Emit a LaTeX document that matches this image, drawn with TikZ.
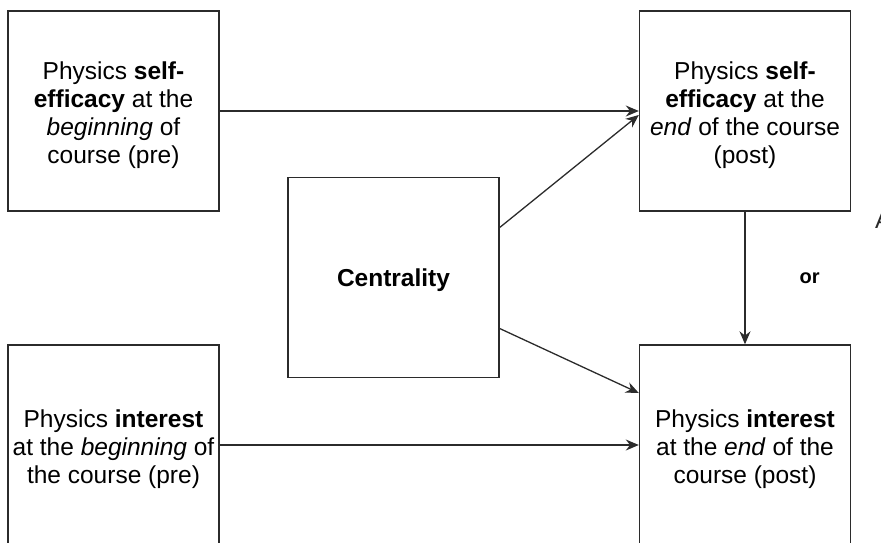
\documentclass[tikz,border=0pt]{standalone}
\usepackage{fontspec}
\setmainfont{Liberation Sans}
\usetikzlibrary{arrows.meta}
\definecolor{edge}{HTML}{2B2B2B}
\newcommand{\topgap}{\rule{0pt}{26pt}}
\begin{document}
\begin{tikzpicture}[x=1pt,y=-1pt,
  box/.style={draw=edge, line width=1.4pt, minimum width=211pt, minimum height=200pt,
    inner sep=0pt, align=center, font=\fontsize{24.5}{28.3}\selectfont},
  conn/.style={draw=edge, line width=1.3pt, -{Stealth[length=13pt,width=11pt]}}
]
\useasboundingbox (0,0) rectangle (881,542);
\node[box] (tl) at (113.5,111) {\topgap Physics \textbf{self-}\\\textbf{efficacy} at the\\\textit{beginning} of\\course (pre)};
\node[box] (bl) at (113.5,445) {\topgap Physics \textbf{interest}\\at the \textit{beginning} of\\the course (pre)};
\node[box] (c) at (393.5,277.5) {\rule{0pt}{24pt}\textbf{Centrality}};
\node[box] (tr) at (745,111) {\topgap Physics \textbf{self-}\\\textbf{efficacy} at the\\\textit{end} of the course\\(post)};
\node[box] (br) at (745,445) {\topgap Physics \textbf{interest}\\at the \textit{end} of the\\course (post)};
\node[anchor=south west, inner sep=0pt, font=\fontsize{24}{28}\selectfont, text=edge] (cut) at (875,229) {A};
\draw[conn] (tl.east) -- (tr.west);
\draw[conn] ([yshift=50pt]c.east) -- ([yshift=-4pt]tr.west);
\draw[conn] ([yshift=-51pt]c.east) -- ([yshift=52pt]br.west);
\draw[conn] (bl.east) -- (br.west);
\draw[conn] (tr.south) -- node[anchor=west, xshift=54pt, inner sep=0pt, font=\fontsize{20}{22}\selectfont\bfseries] (or) {or} (br.north);
\end{tikzpicture}
\end{document}
